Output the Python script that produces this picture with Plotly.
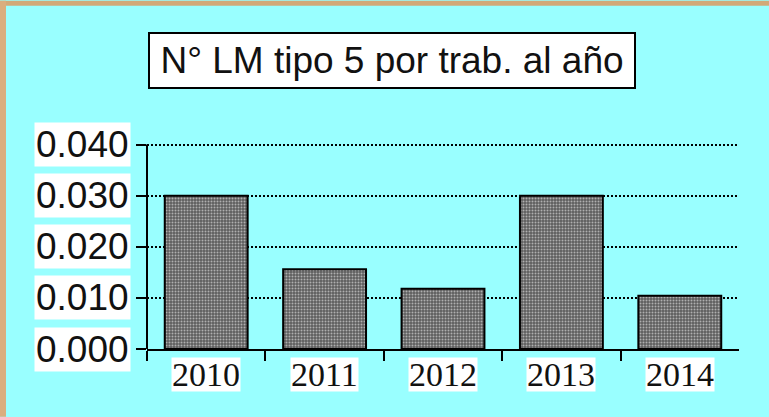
import plotly.graph_objects as go

years = [2010, 2011, 2012, 2013, 2014]
values = [0.0300, 0.0156, 0.0118, 0.0300, 0.0104]
y_ticks = [0.000, 0.010, 0.020, 0.030, 0.040]
y_tick_labels = ["0.000", "0.010", "0.020", "0.030", "0.040"]
title_text = "N° LM tipo 5 por trab. al año"

W, H = 769, 417
Y_TOP = 0.0403
L, R, T, B = 147, 30, 142.5, 68
PW, PH = W - L - R, H - T - B

def px_x(px):
    return (px - L) / PW

def px_y(py):
    return (H - B - py) / PH

fig = go.Figure()
fig.add_trace(go.Bar(
    x=years, y=values, width=0.7,
    marker=dict(
        color="#5e5e5e",
        line=dict(color="black", width=2),
        pattern=dict(shape=".", bgcolor="#5e5e5e", fgcolor="white", size=3, solidity=0.35),
    ),
    showlegend=False,
))

boundaries = [y - 0.5 for y in years]

fig.update_xaxes(
    range=[years[0] - 0.5, years[-1] + 0.5],
    tickvals=boundaries, ticks="outside", ticklen=10, tickwidth=2, tickcolor="black",
    showticklabels=False, showgrid=False, zeroline=False,
    showline=True, linecolor="black", linewidth=2,
)
fig.update_yaxes(
    range=[0, Y_TOP],
    tickvals=y_ticks, ticks="outside", ticklen=10, tickwidth=2, tickcolor="black",
    showticklabels=False, showgrid=True, gridcolor="black", gridwidth=1.5,
    griddash="2px,2px", zeroline=False,
    showline=False,
)
# y axis line from 0 to the top tick
fig.add_shape(type="line", xref="paper", yref="y", x0=0, x1=0, y0=0, y1=y_ticks[-1],
              line=dict(color="black", width=2), layer="above")

annotations = []
for v, lab in zip(y_ticks, y_tick_labels):
    annotations.append(dict(
        xref="paper", yref="y", x=px_x(131), y=v, xanchor="right", yanchor="middle",
        text=lab, showarrow=False, bgcolor="white", borderpad=1,
        font=dict(family="Liberation Sans, Arial", size=37, color="#111"),
    ))
for yr in years:
    annotations.append(dict(
        xref="x", yref="paper", x=yr, y=px_y(357), xanchor="center", yanchor="top",
        text=str(yr), showarrow=False, bgcolor="white", borderpad=0, height=33,
        font=dict(family="Liberation Serif, Times New Roman", size=34, color="#111"),
    ))
annotations.append(dict(
    xref="paper", yref="paper", x=px_x(392), y=px_y(59.5), xanchor="center", yanchor="middle",
    text=title_text, showarrow=False, bgcolor="white", bordercolor="black", borderwidth=2,
    borderpad=2, width=480, height=49,
    font=dict(family="Liberation Sans, Arial", size=37, color="#111"),
))

shapes = [
    dict(type="rect", xref="paper", yref="paper", x0=px_x(0), x1=px_x(W), y0=px_y(5), y1=px_y(0),
         fillcolor="#D2A978", line=dict(width=0), layer="below"),
    dict(type="rect", xref="paper", yref="paper", x0=px_x(0), x1=px_x(6), y0=px_y(H), y1=px_y(0),
         fillcolor="#DAAE7E", line=dict(width=0), layer="below"),
]
for s in shapes:
    fig.add_shape(**s)

fig.update_layout(
    width=W, height=H,
    margin=dict(l=L, r=R, t=T, b=B, pad=0),
    paper_bgcolor="#99FFFF", plot_bgcolor="rgba(0,0,0,0)",
    annotations=annotations,
)

fig.write_html(
    "out.html",
    config={"displayModeBar": False},
    post_script="document.body.style.margin='0';document.body.style.overflow='hidden';",
)
